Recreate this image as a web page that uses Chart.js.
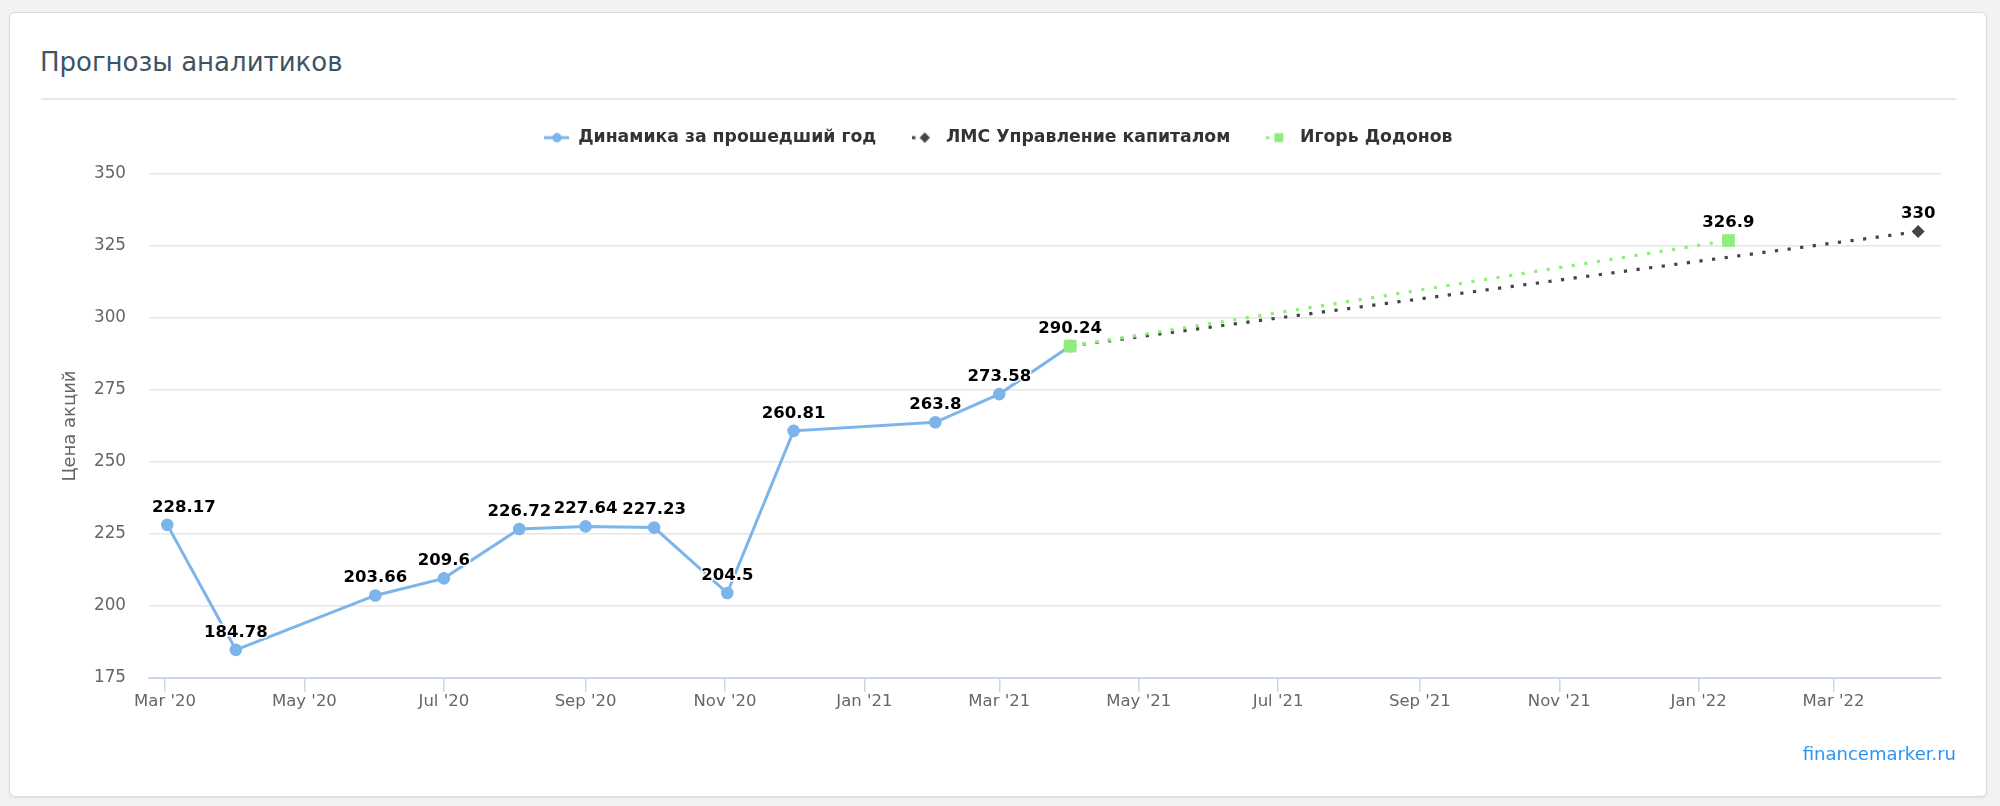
<!DOCTYPE html>
<html><head><meta charset="utf-8">
<script src="https://cdn.jsdelivr.net/npm/chart.js@4.4.1/dist/chart.umd.min.js"></script>
<style>
html,body{margin:0;padding:0;background:#f2f2f2;width:2000px;height:806px;overflow:hidden;font-family:"DejaVu Sans",sans-serif;}
#card{position:absolute;left:9px;top:12px;width:1976px;height:783px;background:#fff;border:1px solid #dadada;border-radius:6px;box-shadow:0 1px 2px rgba(0,0,0,0.08);}
#title{position:absolute;left:40px;top:47px;font-size:26px;line-height:30px;color:#3e5465;white-space:nowrap;}
#sep{position:absolute;left:41px;top:98px;width:1915px;height:2px;background:#e7e7e7;}
#src{position:absolute;right:44px;top:744px;font-size:18px;line-height:20px;color:#2a96f0;white-space:nowrap;}
#c{position:absolute;left:0;top:0;}
</style></head><body>
<div id="card"></div>
<div id="title">Прогнозы аналитиков</div>
<div id="sep"></div>
<canvas id="c" width="2000" height="806"></canvas>
<div id="src">financemarker.ru</div>
<script>
// ---- data ----
const seriesNames = ["Динамика за прошедший год", "ЛМС Управление капиталом", "Игорь Додонов"];
const histDates = ["2020-03-02","2020-04-01","2020-06-01","2020-07-01","2020-08-03","2020-09-01","2020-10-01","2020-11-02","2020-12-01","2021-02-01","2021-03-01","2021-04-01"];
const histValues = [228.17, 184.78, 203.66, 209.6, 226.72, 227.64, 227.23, 204.5, 260.81, 263.8, 273.58, 290.24];
const lmsDates = ["2021-04-01","2022-04-07"];
const lmsValues = [290.24, 330];
const igorDates = ["2021-04-01","2022-01-14"];
const igorValues = [290.24, 326.9];
const xTickDates = ["2020-03-01","2020-05-01","2020-07-01","2020-09-01","2020-11-01","2021-01-01","2021-03-01","2021-05-01","2021-07-01","2021-09-01","2021-11-01","2022-01-01","2022-03-01"];
const xTickLabels = ["Mar '20","May '20","Jul '20","Sep '20","Nov '20","Jan '21","Mar '21","May '21","Jul '21","Sep '21","Nov '21","Jan '22","Mar '22"];
const yTicks = [175, 200, 225, 250, 275, 300, 325, 350];
const xMinDate = "2020-02-23";
const xMaxDate = "2022-04-17";
const yAxisTitle = "Цена акций";

const toDay = s => Date.parse(s + "T00:00:00Z") / 86400000;
const toPoints = (dates, vals) => dates.map((d, i) => ({x: toDay(d), y: vals[i]}));

const COLORS = ["#7cb5ec", "#434348", "#90ed7d"];
const FONT = '"DejaVu Sans", sans-serif';
const DOT = [3.2, 9.5];

// legend icons: short line + marker
function makeIcon(kind, color) {
  const c = document.createElement('canvas');
  c.width = 25; c.height = 14;
  const g = c.getContext('2d');
  g.strokeStyle = color; g.fillStyle = color; g.lineWidth = 3; g.lineCap = 'butt';
  if (kind === 'circle') {
    g.beginPath(); g.moveTo(0, 7); g.lineTo(25, 7); g.stroke();
    g.beginPath(); g.arc(12.5, 7, 4.7, 0, Math.PI * 2); g.fill();
  } else if (kind === 'diamond') {
    g.setLineDash(DOT);
    g.beginPath(); g.moveTo(0, 7); g.lineTo(16, 7); g.stroke();
    g.beginPath(); g.moveTo(12.5, 1.8); g.lineTo(17.7, 7); g.lineTo(12.5, 12.2); g.lineTo(7.3, 7); g.closePath(); g.fill();
  } else {
    g.setLineDash(DOT);
    g.beginPath(); g.moveTo(0, 7); g.lineTo(16, 7); g.stroke();
    g.fillRect(8, 2.5, 9, 9);
  }
  return c;
}
const legendIcons = [makeIcon('circle', COLORS[0]), makeIcon('diamond', COLORS[1]), makeIcon('square', COLORS[2])];

const legendFitPlugin = {
  id: 'legendFit',
  beforeInit(chart) {
    const orig = chart.legend.fit;
    chart.legend.fit = function () { orig.call(this); this.height = 81; };
  }
};

const dataLabelPlugin = {
  id: 'dataLabels',
  afterDatasetsDraw(chart) {
    const ctx = chart.ctx, area = chart.chartArea;
    ctx.save();
    ctx.font = 'bold 16.5px ' + FONT;
    ctx.textAlign = 'center'; ctx.textBaseline = 'middle'; ctx.lineJoin = 'round';
    chart.data.datasets.forEach((ds, di) => {
      const meta = chart.getDatasetMeta(di);
      meta.data.forEach((pt, i) => {
        if (ds.skipFirstLabel && i === 0) return;
        const text = String(ds.data[i].y);
        const w = ctx.measureText(text).width;
        const x = Math.max(area.left + 3 + w / 2, Math.min(area.right + 1 - w / 2, pt.x));
        const y = pt.y - 17.5;
        ctx.strokeStyle = '#ffffff'; ctx.lineWidth = 3; ctx.strokeText(text, x, y);
        ctx.fillStyle = '#000000'; ctx.fillText(text, x, y);
      });
    });
    ctx.restore();
  }
};

new Chart(document.getElementById('c'), {
  type: 'line',
  data: {
    datasets: [
      { label: seriesNames[0], data: toPoints(histDates, histValues), borderColor: COLORS[0], backgroundColor: COLORS[0],
        borderWidth: 3, pointStyle: 'circle', pointRadius: 6.3, pointBorderWidth: 0, order: 2, tension: 0 },
      { label: seriesNames[1], data: toPoints(lmsDates, lmsValues), borderColor: COLORS[1], backgroundColor: COLORS[1],
        borderWidth: 3.2, borderDash: DOT, borderCapStyle: 'butt', pointStyle: 'rectRot', pointRadius: 6.5, pointBorderWidth: 0,
        order: 1, skipFirstLabel: true },
      { label: seriesNames[2], data: toPoints(igorDates, igorValues), borderColor: COLORS[2], backgroundColor: COLORS[2],
        borderWidth: 3.2, borderDash: DOT, borderCapStyle: 'butt', pointStyle: 'rect', pointRadius: 9, pointBorderWidth: 0,
        order: 0, skipFirstLabel: true }
    ]
  },
  options: {
    responsive: false, devicePixelRatio: 1, animation: false,
    layout: { padding: { left: 56, right: 59, top: 93, bottom: 0 } },
    plugins: {
      tooltip: { enabled: false },
      legend: {
        position: 'top', align: 'center',
        labels: {
          usePointStyle: true, pointStyleWidth: 25, padding: 36, color: '#333333',
          font: { family: FONT, size: 17.3, weight: 'bold' },
          sort: (a, b) => a.datasetIndex - b.datasetIndex,
          generateLabels(chart) {
            const items = Chart.defaults.plugins.legend.labels.generateLabels(chart);
            items.forEach(it => { it.pointStyle = legendIcons[it.datasetIndex]; it.fontColor = '#333333'; });
            return items;
          }
        }
      }
    },
    scales: {
      x: {
        type: 'linear', min: toDay(xMinDate), max: toDay(xMaxDate),
        afterBuildTicks: s => { s.ticks = xTickDates.map(d => ({ value: toDay(d) })); },
        afterFit: s => { s.height = 128; },
        ticks: { autoSkip: false, maxRotation: 0, minRotation: 0, padding: 0, color: '#666666',
          font: { family: FONT, size: 16.5 }, callback: (v, i) => xTickLabels[i] },
        grid: { drawOnChartArea: false, drawTicks: true, tickLength: 14, color: '#ccd6eb', lineWidth: 1.5 },
        border: { display: true, color: '#ccd6eb', width: 2 }
      },
      y: {
        min: yTicks[0], max: yTicks[yTicks.length - 1],
        afterBuildTicks: s => { s.ticks = yTicks.map(v => ({ value: v })); },
        afterFit: s => { s.width = 93; },
        ticks: { padding: 23, color: '#666666', font: { family: FONT, size: 16.8 }, callback: v => String(v) },
        grid: { drawTicks: false, lineWidth: 1.5, color: c => (c.tick && c.tick.value === yTicks[0]) ? 'rgba(0,0,0,0)' : '#e6e6e6' },
        border: { display: false },
        title: { display: true, text: yAxisTitle, color: '#666666', font: { family: FONT, size: 18 }, padding: { top: 4, bottom: 4 } }
      }
    }
  },
  plugins: [legendFitPlugin, dataLabelPlugin]
});
</script>
</body></html>
